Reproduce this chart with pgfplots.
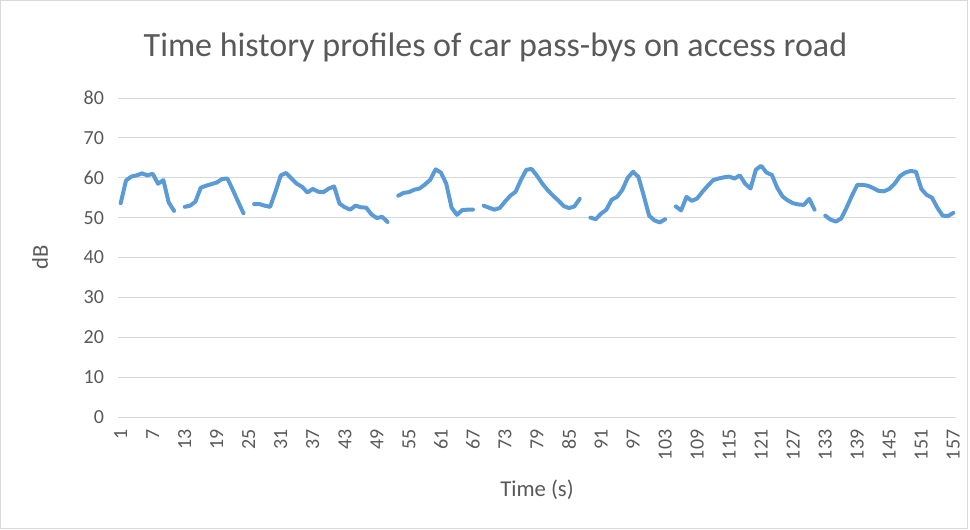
\documentclass[border=0pt]{standalone}
\usepackage{pgfplots}
\pgfplotsset{compat=1.18}
\usepackage{fontspec}
\setmainfont{Carlito}
\definecolor{linec}{HTML}{5B9BD5}
\definecolor{gridc}{HTML}{D9D9D9}
\definecolor{txtc}{HTML}{595959}
\begin{document}
\begin{tikzpicture}
\path[use as bounding box] (0,0) rectangle (727.5pt,396.75pt);
\draw[gridc, line width=0.75pt] (0.4pt,0.4pt) rectangle (725.5pt,396.35pt);
\begin{axis}[
  at={(88.5pt,84pt)}, anchor=south west,
  width=628.5pt, height=239.25pt, scale only axis,
  xmin=0.5, xmax=157.5, ymin=0, ymax=80,
  xtick={1,7,...,157}, ytick={0,10,...,80},
  ymajorgrids, grid style={gridc, line width=0.75pt},
  axis x line*=bottom, axis y line*=left,
  x axis line style={gridc, line width=0.75pt, -},
  y axis line style={draw=none},
  major tick length=0pt,
  tick label style={font=\fontsize{15}{17}\selectfont, text=txtc},
  /pgf/number format/assume math mode=true,
  xticklabel style={rotate=90, anchor=east},
  yticklabel style={anchor=east},
  xticklabel shift=6pt,
  yticklabel shift=7pt,
  unbounded coords=jump,
  clip=false,
]
\addplot[linec, line width=3pt, line join=round, line cap=round] table[row sep=\\] {
x y\\
1 53.6\\ 2 59.3\\ 3 60.3\\ 4 60.6\\ 5 61.1\\ 6 60.6\\ 7 61\\ 8 58.5\\ 9 59.4\\ 10 53.8\\ 11 51.7\\
12 nan\\
13 52.7\\ 14 53\\ 15 54\\ 16 57.5\\ 17 58\\ 18 58.4\\ 19 58.8\\ 20 59.7\\ 21 59.8\\ 22 57\\ 23 54\\ 24 51.1\\
25 nan\\
26 53.4\\ 27 53.4\\ 28 53\\ 29 52.7\\ 30 56.5\\ 31 60.6\\ 32 61.2\\ 33 59.8\\ 34 58.5\\ 35 57.7\\ 36 56.3\\ 37 57.2\\ 38 56.5\\ 39 56.4\\ 40 57.3\\ 41 57.8\\ 42 53.5\\ 43 52.6\\ 44 52\\ 45 53\\ 46 52.6\\ 47 52.5\\ 48 50.8\\ 49 49.9\\ 50 50.2\\ 51 48.9\\
52 nan\\
53 55.5\\ 54 56.2\\ 55 56.4\\ 56 57\\ 57 57.3\\ 58 58.3\\ 59 59.5\\ 60 62.1\\ 61 61.3\\ 62 58.5\\ 63 52.5\\ 64 50.7\\ 65 51.9\\ 66 52\\ 67 52\\
68 nan\\
69 53\\ 70 52.5\\ 71 52\\ 72 52.4\\ 73 54\\ 74 55.5\\ 75 56.5\\ 76 59.5\\ 77 62\\ 78 62.2\\ 79 60.5\\ 80 58.5\\ 81 56.9\\ 82 55.5\\ 83 54.3\\ 84 52.9\\ 85 52.4\\ 86 52.8\\ 87 54.7\\
88 nan\\
89 50\\ 90 49.6\\ 91 51\\ 92 52\\ 93 54.5\\ 94 55.2\\ 95 57\\ 96 60\\ 97 61.5\\ 98 60.2\\ 99 55.5\\ 100 50.5\\ 101 49.3\\ 102 48.8\\ 103 49.6\\
104 nan\\
105 52.8\\ 106 51.8\\ 107 55.2\\ 108 54.2\\ 109 54.8\\ 110 56.5\\ 111 58\\ 112 59.4\\ 113 59.8\\ 114 60.1\\ 115 60.3\\ 116 59.8\\ 117 60.6\\ 118 58.5\\ 119 57.3\\ 120 62\\ 121 63\\ 122 61.3\\ 123 60.7\\ 124 57.5\\ 125 55.3\\ 126 54.3\\ 127 53.6\\ 128 53.3\\ 129 53.2\\ 130 54.7\\ 131 52\\
132 nan\\
133 50.5\\ 134 49.5\\ 135 49\\ 136 49.8\\ 137 52.5\\ 138 55.5\\ 139 58.2\\ 140 58.2\\ 141 58\\ 142 57.4\\ 143 56.7\\ 144 56.6\\ 145 57.2\\ 146 58.5\\ 147 60.4\\ 148 61.3\\ 149 61.7\\ 150 61.5\\ 151 57.2\\ 152 55.7\\ 153 55\\ 154 52.5\\ 155 50.5\\ 156 50.4\\ 157 51.2\\
};
\end{axis}
\node[text=txtc, font=\fontsize{25.5}{30}\selectfont] at (371.6pt,361.5pt) {Time history profiles of car pass-bys on access road};
\node[text=txtc, font=\fontsize{17}{20}\selectfont, rotate=90] at (30pt,204pt) {dB};
\node[text=txtc, font=\fontsize{17}{20}\selectfont] at (402.75pt,29.25pt) {Time (s)};
\end{tikzpicture}
\end{document}
